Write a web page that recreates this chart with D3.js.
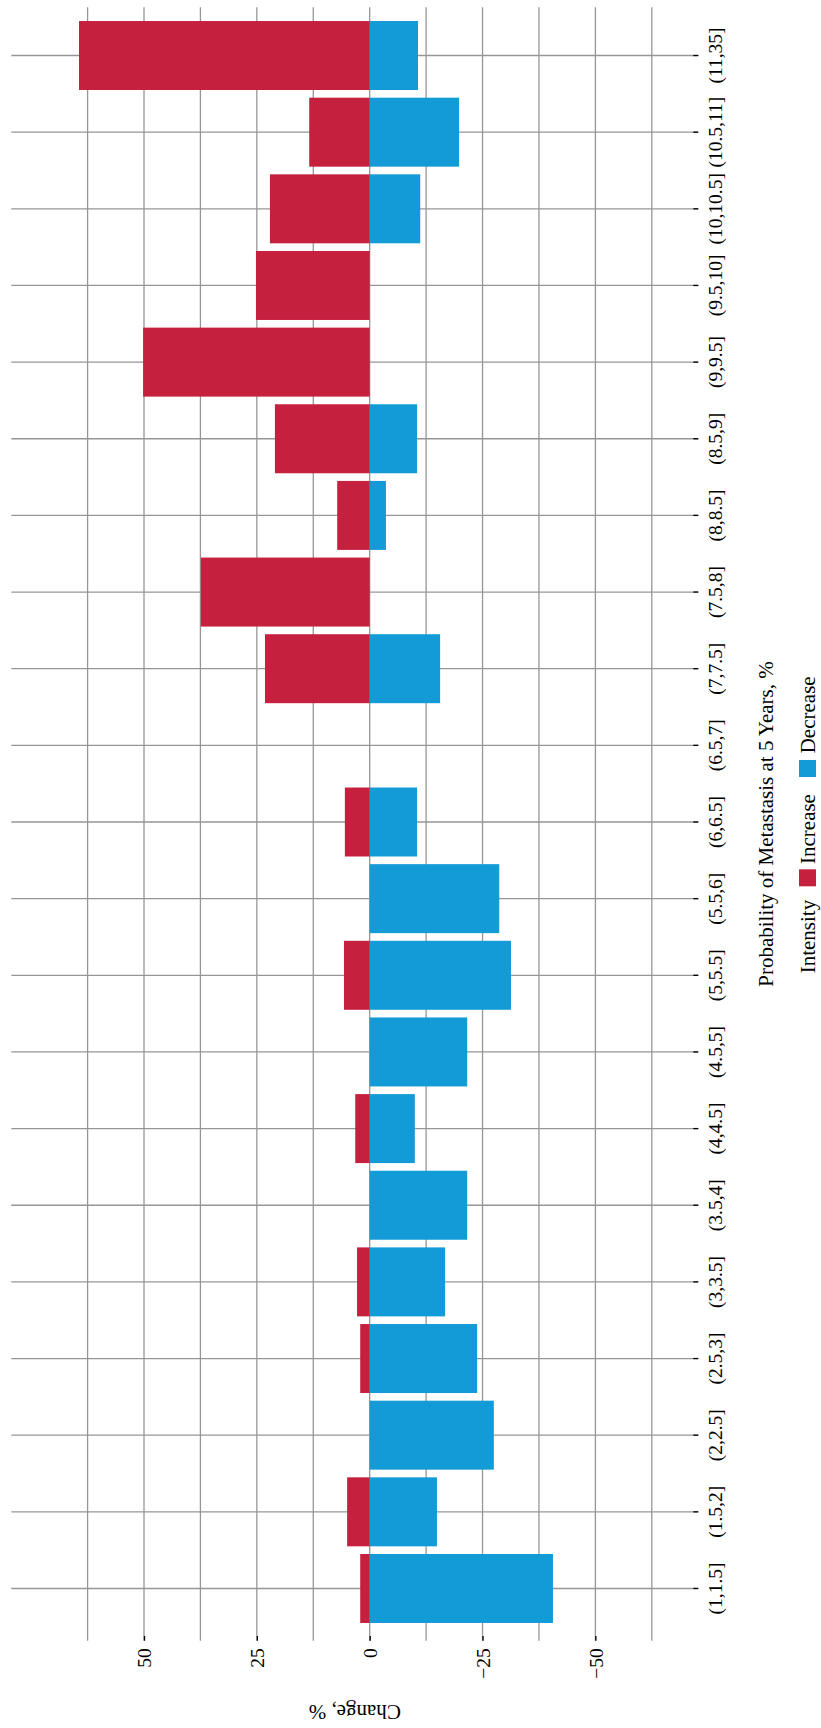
<!DOCTYPE html>
<html>
<head>
<meta charset="utf-8">
<script src="https://cdn.jsdelivr.net/npm/d3@7"></script>
<style>
  body { margin: 0; background: #fff; }
  .chart text { font-family: "Liberation Serif", "DejaVu Serif", serif; fill: #000; }
</style>
</head>
<body>
<div class="chart"></div>
<script>
// categories bottom -> top of the page
const categories = ["(1,1.5]", "(1.5,2]", "(2,2.5]", "(2.5,3]", "(3,3.5]", "(3.5,4]", "(4,4.5]",
  "(4.5,5]", "(5,5.5]", "(5.5,6]", "(6,6.5]", "(6.5,7]", "(7,7.5]", "(7.5,8]", "(8,8.5]",
  "(8.5,9]", "(9,9.5]", "(9.5,10]", "(10,10.5]", "(10.5,11]", "(11,35]"];
const increase = [2.1, 5.0, null, 2.1, 2.8, null, 3.2, null, 5.7, null, 5.5, null,
  23.2, 37.4, 7.2, 21.0, 50.2, 25.2, 22.1, 13.4, 64.4];
const decrease = [-40.6, -14.9, -27.5, -23.8, -16.7, -21.6, -10.0, -21.6, -31.3, -28.7, -10.5, null,
  -15.6, null, -3.6, -10.5, null, null, -11.2, -19.8, -10.7];
const valueTicks = [50, 25, 0, -25, -50];
const minorTicks = [62.5, 37.5, 12.5, -12.5, -37.5, -62.5];
const seriesNames = ["Increase", "Decrease"];
const seriesColors = ["#c5203e", "#129bd6"];

document.addEventListener('DOMContentLoaded', function() {
  const w = 821, h = 1728;
  const left = 11.3, right = 698.3, top = 7.3, bottom = 1640.7;

  const svg = d3.select(".chart").append("svg")
    .attr("width", w)
    .attr("height", h);

  // value axis runs right-to-left (positive to the left)
  const x = d3.scaleLinear().domain([79.4, -72.8]).range([left, right]);
  const y = d3.scaleBand()
    .domain(categories.slice().reverse())
    .range([17.2, 1626.8])
    .paddingInner(0.1)
    .paddingOuter(0.05);
  const yc = d => y(d) + y.bandwidth() / 2;

  const grid = svg.append("g").attr("stroke", "#969696").attr("stroke-width", 1.3);
  grid.selectAll("line.v")
    .data(valueTicks.concat(minorTicks))
    .enter().append("line")
    .attr("class", "v")
    .attr("x1", d => x(d)).attr("x2", d => x(d))
    .attr("y1", top).attr("y2", bottom);
  grid.selectAll("line.h")
    .data(categories)
    .enter().append("line")
    .attr("class", "h")
    .attr("x1", left).attr("x2", right)
    .attr("y1", d => yc(d)).attr("y2", d => yc(d));

  const series = [increase, decrease];
  series.forEach(function(vals, s) {
    const rows = categories.map((c, i) => ({ cat: c, v: vals[i] })).filter(r => r.v !== null);
    svg.append("g").selectAll("rect")
      .data(rows)
      .enter().append("rect")
      .attr("x", r => Math.min(x(0), x(r.v)))
      .attr("width", r => Math.abs(x(r.v) - x(0)))
      .attr("y", r => y(r.cat))
      .attr("height", y.bandwidth())
      .attr("fill", seriesColors[s]);
  });

  // value axis at the bottom, ticks pointing inward
  const xAxis = svg.append("g")
    .attr("transform", `translate(0,${bottom})`)
    .call(d3.axisBottom(x).tickValues(valueTicks).tickSizeInner(-4.7).tickSizeOuter(0));
  xAxis.select(".domain").remove();
  xAxis.selectAll(".tick line").attr("stroke", "#000").attr("stroke-width", 1.3);
  xAxis.selectAll(".tick text")
    .attr("x", 0).attr("y", 0).attr("dy", "0.35em")
    .attr("transform", "translate(0,7.6) rotate(-90)")
    .attr("text-anchor", "end")
    .style("font-size", "19.5px");

  // category axis on the right
  const yAxis = svg.append("g")
    .attr("transform", `translate(${right},0)`)
    .call(d3.axisRight(y).tickSizeInner(-5).tickSizeOuter(0));
  yAxis.select(".domain").remove();
  yAxis.selectAll(".tick line").attr("stroke", "#000").attr("stroke-width", 1.3);
  yAxis.selectAll(".tick text")
    .attr("x", 0).attr("y", 0).attr("dy", 0)
    .attr("transform", `translate(${722 - right},0) rotate(-90)`)
    .attr("text-anchor", "middle")
    .style("font-size", "19.5px");

  svg.append("text")
    .attr("transform", `translate(${(left + right) / 2},1705) rotate(180)`)
    .attr("text-anchor", "middle")
    .style("font-size", "21px")
    .text("Change, %");

  svg.append("text")
    .attr("transform", `translate(773.3,${(top + bottom) / 2}) rotate(-90)`)
    .attr("text-anchor", "middle")
    .style("font-size", "21px")
    .text("Probability of Metastasis at 5 Years, %");

  // legend
  const lx = 814.5;
  svg.append("text")
    .attr("transform", `translate(${lx},973.3) rotate(-90)`)
    .style("font-size", "21px")
    .text("Intensity");
  const keyY = [869.3, 760];
  const labelY = [864, 753.3];
  seriesNames.forEach(function(name, i) {
    svg.append("rect")
      .attr("x", 799).attr("y", keyY[i])
      .attr("width", 17).attr("height", 17)
      .attr("fill", seriesColors[i]);
    svg.append("text")
      .attr("transform", `translate(${lx},${labelY[i]}) rotate(-90)`)
      .style("font-size", "21px")
      .text(name);
  });
});
</script>
</body>
</html>
